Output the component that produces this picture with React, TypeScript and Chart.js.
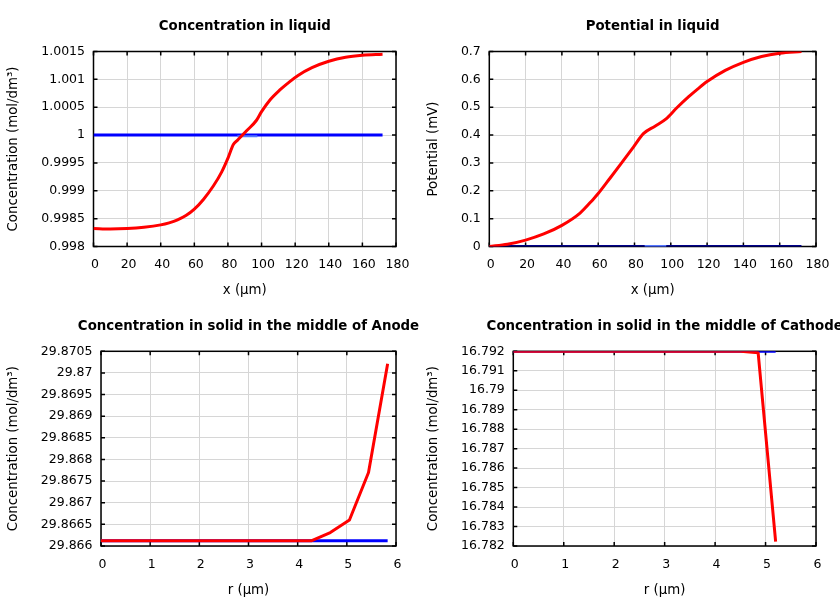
import React, { useEffect, useRef } from "react";
import { Chart, registerables } from "chart.js";

Chart.register(...registerables);

const FONT = "'DejaVu Sans', sans-serif";
const TITLE_SIZE = 13.33;
const TICK_SIZE = 12.5;

// ---------- Panel 1: Concentration in liquid ----------
const liquidX = [0, 10, 20, 30, 40, 45, 50, 55, 60, 65.4, 71.3, 76.3, 80.2, 83.2, 85.6, 91.1, 97, 100, 105, 110.9, 116.8, 121.7, 130, 140, 150, 160, 172];
const liquidConcFinal = [0.998324, 0.998314, 0.998322, 0.998345, 0.998388, 0.998425, 0.998478, 0.998555, 0.99867, 0.998845, 0.999085, 0.99934, 0.9996, 0.99983, 0.999905, 1.000076, 1.000266, 1.00042, 1.00063, 1.00081, 1.00096, 1.00107, 1.00121, 1.001325, 1.001398, 1.001434, 1.001452];
const liquidInitX = [0, 172];
const liquidConcInit = [1, 1];
const separatorX = [85.6, 97.5];
const sepConcInit = [0.99998, 0.99998];

// ---------- Panel 2: Potential in liquid ----------
const potX = [0, 10, 20, 30, 40, 50, 57.3, 60, 66.5, 72.9, 79.4, 84.9, 91.3, 97.4, 103.2, 109.7, 115.1, 120, 130, 140, 150, 160, 172];
const potFinal = [0, 0.008, 0.023, 0.045, 0.076, 0.12, 0.17, 0.19, 0.245, 0.3, 0.357, 0.405, 0.432, 0.458, 0.497, 0.537, 0.567, 0.592, 0.632, 0.661, 0.682, 0.694, 0.7];
const potInit = [0, 0];
const sepPotInit = [0.002, 0.002];

// ---------- Panel 3: Anode solid ----------
const anodeR = [0, 0.389, 0.777, 1.166, 1.555, 1.943, 2.332, 2.721, 3.109, 3.498, 3.887, 4.275, 4.664, 5.053, 5.441, 5.83];
const anodeFinal = [29.86612, 29.86612, 29.86612, 29.86612, 29.86612, 29.86612, 29.86612, 29.86612, 29.86612, 29.86612, 29.86612, 29.86612, 29.86631, 29.8666, 29.8677, 29.87021];
const anodeInit = [29.86612, 29.86612, 29.86612, 29.86612, 29.86612, 29.86612, 29.86612, 29.86612, 29.86612, 29.86612, 29.86612, 29.86612, 29.86612, 29.86612, 29.86612, 29.86612];

// ---------- Panel 4: Cathode solid ----------
const cathodeR = [0, 0.347, 0.693, 1.04, 1.387, 1.733, 2.08, 2.427, 2.773, 3.12, 3.467, 3.813, 4.16, 4.507, 4.853, 5.2];
const cathodeFinal = [16.792, 16.792, 16.792, 16.792, 16.792, 16.792, 16.792, 16.792, 16.792, 16.792, 16.792, 16.792, 16.792, 16.792, 16.79193, 16.78222];
const cathodeInit = [16.792, 16.792, 16.792, 16.792, 16.792, 16.792, 16.792, 16.792, 16.792, 16.792, 16.792, 16.792, 16.792, 16.792, 16.792, 16.792];

const pts = (xs: number[], ys: number[]) => xs.map((x, i) => ({ x, y: ys[i] }));
const fmt = (v: any) => String(parseFloat(Number(v).toFixed(6)));

const framePlugin = {
  id: "frame",
  beforeDatasetsDraw(chart: any) {
    const { ctx, chartArea } = chart;
    const { left, right, top, bottom } = chartArea;
    const xs = chart.scales.x;
    const ys = chart.scales.y;
    const tl = 4;
    ctx.save();
    ctx.strokeStyle = "#000";
    ctx.lineWidth = 1.5;
    ctx.beginPath();
    for (const t of xs.ticks) {
      const p = xs.getPixelForValue(t.value);
      ctx.moveTo(p, bottom);
      ctx.lineTo(p, bottom - tl);
      ctx.moveTo(p, top);
      ctx.lineTo(p, top + tl);
    }
    for (const t of ys.ticks) {
      const p = ys.getPixelForValue(t.value);
      ctx.moveTo(left, p);
      ctx.lineTo(left + tl, p);
      ctx.moveTo(right, p);
      ctx.lineTo(right - tl, p);
    }
    ctx.stroke();
    ctx.strokeRect(left, top, right - left, bottom - top);
    ctx.restore();
  },
};

// Title centred over the plot area, allowed to run past the plot edges
const panelTitlePlugin = {
  id: "panelTitle",
  afterDraw(chart: any, _args: any, opts: any) {
    const { ctx, chartArea } = chart;
    ctx.save();
    ctx.font = `bold ${TITLE_SIZE}px ${FONT}`;
    ctx.fillStyle = "#000";
    ctx.textAlign = "center";
    ctx.textBaseline = "middle";
    ctx.fillText(opts.text, (chartArea.left + chartArea.right) / 2, opts.y);
    ctx.restore();
  },
};

type Panel = {
  title: string;
  xTitle: string;
  yTitle: string;
  xMin: number; xMax: number; xStep: number;
  yMin: number; yMax: number; yStep: number;
  panelLeft: number; panelBottom: number;
  box: { l: number; r: number; t: number; b: number };
  titleY: number;
  datasets: any[];
};

const RED = "#ff0000";
const BLUE = "#0000ff";
const LIGHTBLUE = "#5577ff";

const line = (data: any[], color: string, width: number, smooth: boolean) => ({
  data,
  borderColor: color,
  backgroundColor: color,
  borderWidth: width,
  pointRadius: 0,
  fill: false,
  tension: 0,
  cubicInterpolationMode: smooth ? "monotone" : "default",
  borderJoinStyle: "round",
  borderCapStyle: "butt",
});

const panels: Panel[] = [
  {
    title: "Concentration in liquid",
    xTitle: "x (µm)",
    yTitle: "Concentration (mol/dm³)",
    xMin: 0, xMax: 180, xStep: 20,
    yMin: 0.998, yMax: 1.0015, yStep: 0.0005,
    panelLeft: 0, panelBottom: 300,
    box: { l: 93.5, r: 396, t: 51.5, b: 246.5 },
    titleY: 26.1,
    datasets: [
      line(pts(liquidX, liquidConcFinal), RED, 3, true),
      line(pts(separatorX, sepConcInit), LIGHTBLUE, 2, false),
      line(pts(liquidInitX, liquidConcInit), BLUE, 3, false),
    ],
  },
  {
    title: "Potential in liquid",
    xTitle: "x (µm)",
    yTitle: "Potential (mV)",
    xMin: 0, xMax: 180, xStep: 20,
    yMin: 0, yMax: 0.7, yStep: 0.1,
    panelLeft: 420, panelBottom: 300,
    box: { l: 489.3, r: 816, t: 51.5, b: 246.5 },
    titleY: 26.1,
    datasets: [
      line(pts(potX, potFinal), RED, 3, true),
      line(pts(separatorX, sepPotInit), LIGHTBLUE, 2, false),
      line(pts(liquidInitX, potInit), "#00008a", 3, false),
    ],
  },
  {
    title: "Concentration in solid in the middle of Anode",
    xTitle: "r (µm)",
    yTitle: "Concentration (mol/dm³)",
    xMin: 0, xMax: 6, xStep: 1,
    yMin: 29.866, yMax: 29.8705, yStep: 0.0005,
    panelLeft: 0, panelBottom: 600,
    box: { l: 101, r: 396, t: 351.3, b: 546 },
    titleY: 326.1,
    datasets: [
      line(pts(anodeR, anodeFinal), RED, 3, false),
      line(pts(anodeR, anodeInit), BLUE, 3, false),
    ],
  },
  {
    title: "Concentration in solid in the middle of Cathode",
    xTitle: "r (µm)",
    yTitle: "Concentration (mol/dm³)",
    xMin: 0, xMax: 6, xStep: 1,
    yMin: 16.782, yMax: 16.792, yStep: 0.001,
    panelLeft: 420, panelBottom: 600,
    box: { l: 513.3, r: 816, t: 351.3, b: 546 },
    titleY: 326.1,
    datasets: [
      line(pts(cathodeR, cathodeFinal), RED, 3, false),
      line(pts(cathodeR, cathodeInit), BLUE, 3, false),
    ],
  },
];

function makeConfig(p: Panel): any {
  const yWidth = p.box.l - p.panelLeft;
  const xHeight = p.panelBottom - p.box.b;
  return {
    type: "line",
    data: { datasets: p.datasets },
    options: {
      animation: false,
      responsive: false,
      devicePixelRatio: 1,
      events: [],
      layout: {
        padding: {
          left: p.panelLeft,
          top: p.box.t,
          right: 840 - p.box.r,
          bottom: 600 - p.panelBottom,
        },
      },
      plugins: {
        legend: { display: false },
        tooltip: { enabled: false },
        title: { display: false },
        panelTitle: { text: p.title, y: p.titleY },
      },
      scales: {
        x: {
          type: "linear",
          min: p.xMin,
          max: p.xMax,
          ticks: {
            stepSize: p.xStep,
            autoSkip: false,
            maxRotation: 0,
            padding: 11,
            labelOffset: 1.5,
            color: "#000",
            font: { family: FONT, size: TICK_SIZE },
            callback: fmt,
          },
          grid: { color: "#d6d6d6", lineWidth: 1, drawTicks: false },
          border: { display: false },
          title: {
            display: true,
            text: p.xTitle,
            color: "#000",
            font: { family: FONT, size: TITLE_SIZE, lineHeight: 1 },
            padding: { top: 0, bottom: 3 },
          },
          afterFit: (s: any) => { s.height = xHeight; },
        },
        y: {
          type: "linear",
          min: p.yMin,
          max: p.yMax,
          ticks: {
            stepSize: p.yStep,
            autoSkip: false,
            padding: 8.5,
            color: "#000",
            font: { family: FONT, size: TICK_SIZE },
            callback: fmt,
          },
          grid: { color: "#d6d6d6", lineWidth: 1, drawTicks: false },
          border: { display: false },
          title: {
            display: true,
            text: p.yTitle,
            color: "#000",
            font: { family: FONT, size: TITLE_SIZE, lineHeight: 1 },
            padding: { top: 7, bottom: 0 },
          },
          afterFit: (s: any) => { s.width = yWidth; },
        },
      },
    },
    plugins: [framePlugin, panelTitlePlugin],
  };
}

function PanelChart({ panel }: { panel: Panel }) {
  const ref = useRef<HTMLCanvasElement | null>(null);
  useEffect(() => {
    if (!ref.current) return;
    const chart = new Chart(ref.current, makeConfig(panel));
    return () => chart.destroy();
  }, [panel]);
  return (
    <canvas
      ref={ref}
      width={840}
      height={600}
      style={{ position: "absolute", left: 0, top: 0, width: 840, height: 600 }}
    />
  );
}

export default function App() {
  return (
    <div style={{ position: "absolute", left: 0, top: 0, width: 840, height: 600, background: "#fff", overflow: "hidden" }}>
      {panels.map((p, i) => (
        <PanelChart key={i} panel={p} />
      ))}
    </div>
  );
}
